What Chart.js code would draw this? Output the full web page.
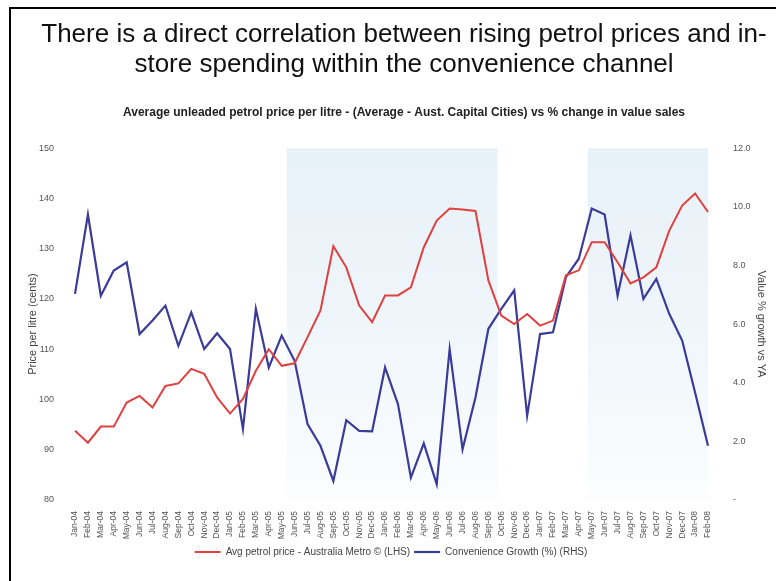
<!DOCTYPE html>
<html>
<head>
<meta charset="utf-8">
<script src="https://cdn.jsdelivr.net/npm/chart.js@4"></script>
<style>
    html, body { margin: 0; padding: 0; background: #fff; }
    #wrap { position: relative; width: 776px; height: 581px; overflow: hidden; }
    #frame { position: absolute; left: 9px; top: 7px; right: -4px; bottom: -4px;
             border-top: 2px solid #000; border-left: 2px solid #000; pointer-events: none; }
    canvas { position: absolute; left: 0; top: 0; }
</style>
</head>
<body>
<div id="wrap">
    <canvas id="myChart" width="776" height="581"></canvas>
    <div id="frame"></div>
</div>
<script>
// Month labels, Jan-04 .. Feb-08
const months = [
    'Jan-04', 'Feb-04', 'Mar-04', 'Apr-04', 'May-04', 'Jun-04', 'Jul-04', 'Aug-04', 'Sep-04', 'Oct-04', 'Nov-04', 'Dec-04',
    'Jan-05', 'Feb-05', 'Mar-05', 'Apr-05', 'May-05', 'Jun-05', 'Jul-05', 'Aug-05', 'Sep-05', 'Oct-05', 'Nov-05', 'Dec-05',
    'Jan-06', 'Feb-06', 'Mar-06', 'Apr-06', 'May-06', 'Jun-06', 'Jul-06', 'Aug-06', 'Sep-06', 'Oct-06', 'Nov-06', 'Dec-06',
    'Jan-07', 'Feb-07', 'Mar-07', 'Apr-07', 'May-07', 'Jun-07', 'Jul-07', 'Aug-07', 'Sep-07', 'Oct-07', 'Nov-07', 'Dec-07',
    'Jan-08', 'Feb-08'
];

// Avg petrol price, cents per litre (LHS)
const petrolPrice = [
    93.8, 91.4, 94.6, 94.6, 99.4, 100.7, 98.4, 102.7, 103.2, 106.1, 105.1, 100.4,
    97.2, 100.1, 105.7, 110.0, 106.7, 107.2, 112.4, 117.7, 130.5, 126.3, 118.7, 115.4,
    120.7, 120.7, 122.3, 130.3, 135.6, 138.0, 137.8, 137.5, 123.7, 116.7, 115.0, 117.0,
    114.7, 115.7, 124.7, 125.7, 131.3, 131.3, 127.3, 123.1, 124.3, 126.3, 133.6, 138.6,
    141.0, 137.3
];

// Convenience growth, % vs YA (RHS)
const convenienceGrowth = [
    7.03, 9.74, 6.97, 7.83, 8.11, 5.66, 6.12, 6.63, 5.26, 6.40, 5.15, 5.69,
    5.15, 2.42, 6.52, 4.52, 5.61, 4.75, 2.59, 1.85, 0.65, 2.72, 2.36, 2.34,
    4.52, 3.27, 0.76, 1.93, 0.54, 5.15, 1.73, 3.50, 5.84, 6.52, 7.15, 2.87,
    5.66, 5.72, 7.60, 8.23, 9.94, 9.74, 6.97, 9.03, 6.86, 7.54, 6.35, 5.44,
    3.67, 1.85
];

// Shaded periods, in month index units
const bandStarts = [16.4, 39.7];
const bandEnds = [32.7, 49];

const leftTicks = [80, 90, 100, 110, 120, 130, 140, 150];
const rightTicks = [0, 2, 4, 6, 8, 10, 12];

const FONT = "'Liberation Sans', Arial, sans-serif";

// Light blue background bands behind the lines
const bandPlugin = {
    id: 'bands',
    afterLayout(chart) {
        // The headings sit a little right of the canvas centre.
        chart.boxes.forEach(box => {
            if (box.position === 'top' && box.options && box.options.text) {
                box.left += 13;
                box.right += 13;
            }
        });
    },
    beforeDatasetsDraw(chart) {
        const {ctx, chartArea, scales} = chart;
        const grad = ctx.createLinearGradient(0, chartArea.top, 0, chartArea.bottom);
        grad.addColorStop(0, '#e7f1f8');
        grad.addColorStop(0.6, '#f1f7fb');
        grad.addColorStop(1, '#fbfdfe');
        ctx.save();
        ctx.fillStyle = grad;
        bandStarts.forEach((start, i) => {
            const x1 = scales.x.getPixelForValue(start);
            const x2 = scales.x.getPixelForValue(bandEnds[i]);
            ctx.fillRect(x1, chartArea.top, x2 - x1, chartArea.bottom - chartArea.top);
        });
        ctx.restore();
    }
};

const ctx = document.getElementById('myChart').getContext('2d');
const chart = new Chart(ctx, {
    type: 'line',
    data: {
        labels: months,
        datasets: [{
            label: 'Avg petrol price - Australia Metro \u00a9 (LHS)',
            data: petrolPrice,
            borderColor: '#e0403f',
            backgroundColor: '#e0403f',
            borderWidth: 2,
            pointRadius: 0,
            tension: 0,
            yAxisID: 'y'
        }, {
            label: 'Convenience Growth (%) (RHS)',
            data: convenienceGrowth,
            borderColor: '#3b3b9a',
            backgroundColor: '#3b3b9a',
            borderWidth: 2.2,
            pointRadius: 0,
            tension: 0,
            yAxisID: 'y1'
        }]
    },
    options: {
        responsive: false,
        animation: false,
        layout: { padding: { left: 10, right: 4, top: 8, bottom: 14 } },
        plugins: {
            title: {
                display: true,
                text: ['There is a direct correlation between rising petrol prices and in-',
                       'store spending within the convenience channel'],
                color: '#111',
                font: { family: FONT, size: 26, weight: 'normal', lineHeight: 1.15 },
                padding: { top: 12, bottom: 26 }
            },
            subtitle: {
                display: true,
                text: 'Average unleaded petrol price per litre - (Average - Aust. Capital Cities) vs % change in value sales',
                color: '#222',
                font: { family: FONT, size: 12, weight: 'bold' },
                padding: { top: 0, bottom: 28 }
            },
            legend: {
                position: 'bottom',
                labels: {
                    usePointStyle: true,
                    pointStyle: 'line',
                    pointStyleWidth: 26,
                    color: '#444',
                    font: { family: FONT, size: 10 },
                    padding: 4
                }
            },
            tooltip: { enabled: false }
        },
        scales: {
            x: {
                offset: false,
                grid: { display: false },
                border: { display: false },
                ticks: {
                    autoSkip: false,
                    maxRotation: 90,
                    minRotation: 90,
                    color: '#555',
                    padding: 3,
                    font: { family: FONT, size: 8.5 }
                },
                afterFit(scale) { scale.height = 43; }
            },
            y: {
                position: 'left',
                min: 80,
                max: 150,
                grid: { display: false },
                border: { display: false },
                afterBuildTicks(scale) { scale.ticks = leftTicks.map(v => ({ value: v })); },
                ticks: {
                    color: '#555',
                    padding: 13,
                    font: { family: FONT, size: 9 }
                },
                title: {
                    display: true,
                    text: 'Price per litre (cents)',
                    color: '#444',
                    font: { family: FONT, size: 11 },
                    padding: { top: 16 }
                },
                afterFit(scale) { scale.width = 65; }
            },
            y1: {
                position: 'right',
                min: 0,
                max: 12,
                grid: { display: false },
                border: { display: false },
                afterBuildTicks(scale) { scale.ticks = rightTicks.map(v => ({ value: v })); },
                ticks: {
                    color: '#555',
                    padding: 17,
                    font: { family: FONT, size: 9 },
                    callback: v => v === 0 ? '-' : v.toFixed(1)
                },
                title: {
                    display: true,
                    text: 'Value % growth vs YA',
                    color: '#444',
                    font: { family: FONT, size: 11 },
                    padding: { top: 4 }
                },
                afterFit(scale) { scale.width = 64; }
            }
        }
    },
    plugins: [bandPlugin]
});
</script>
</body>
</html>
